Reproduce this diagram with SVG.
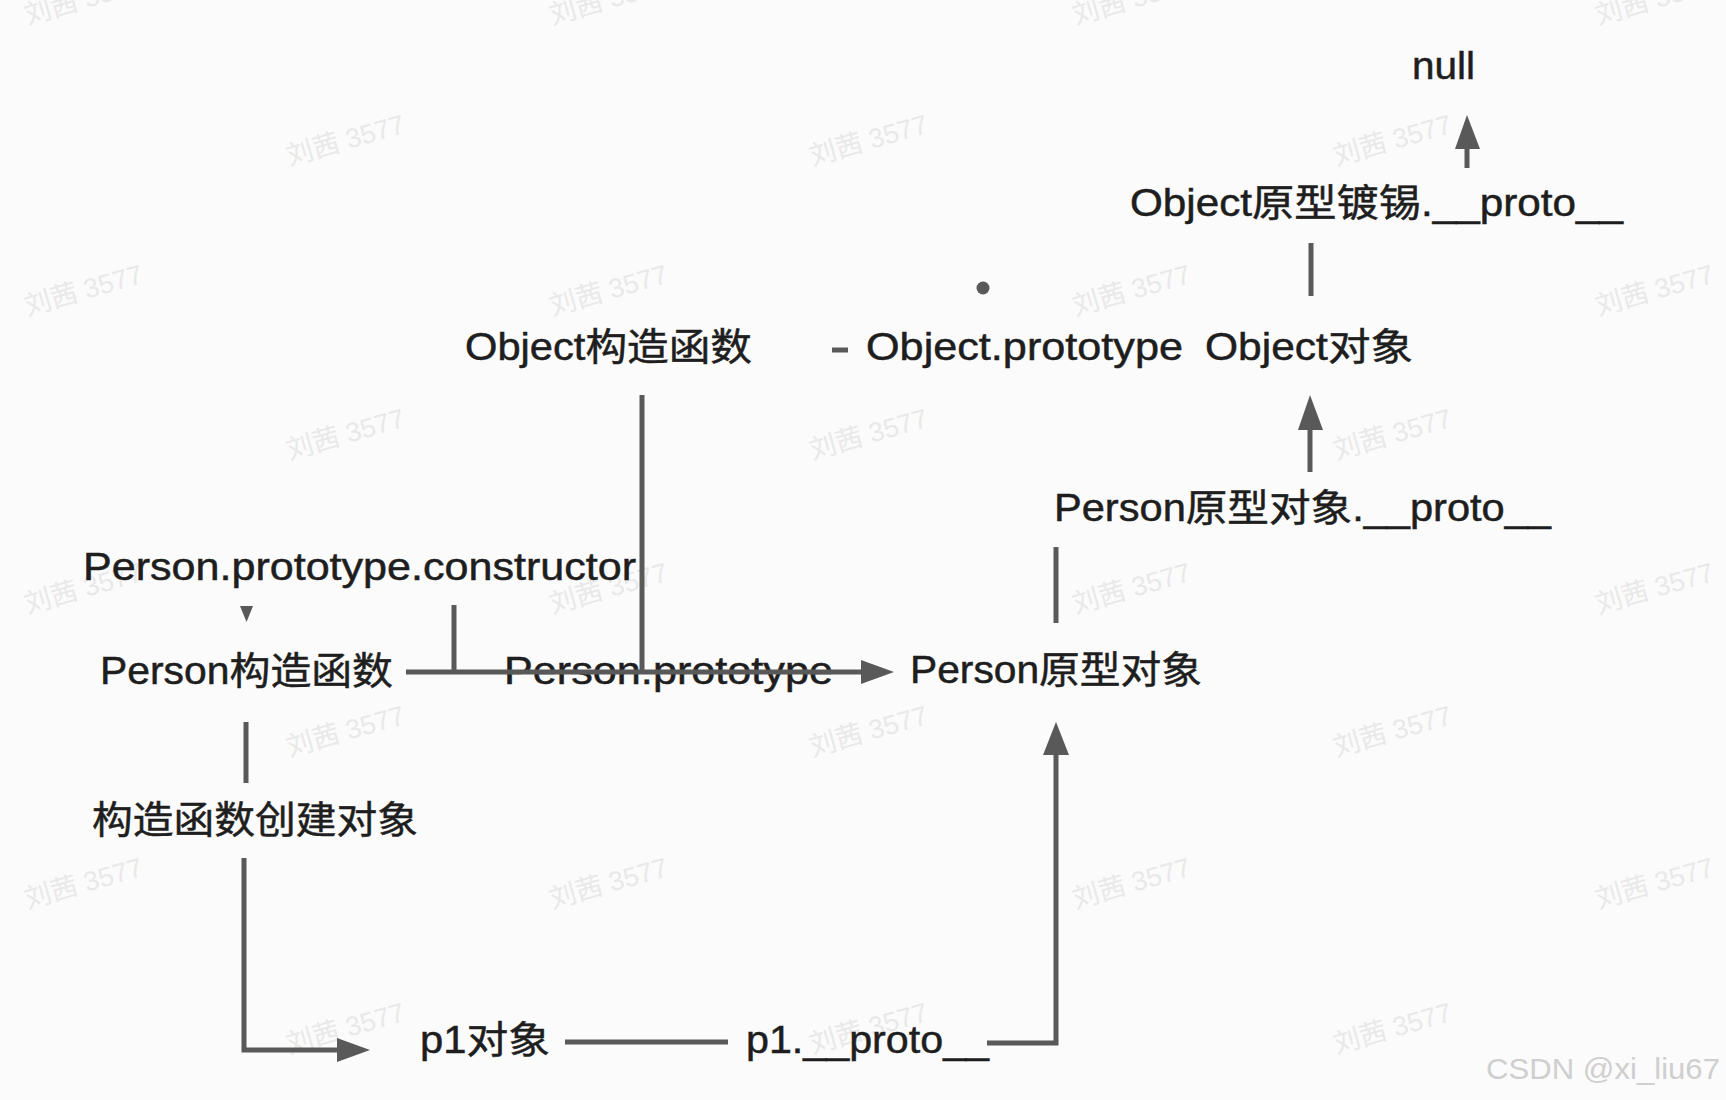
<svg xmlns="http://www.w3.org/2000/svg" width="1726" height="1100" viewBox="0 0 1726 1100">
<style>
.t{font-family:"Liberation Sans","Noto Sans CJK SC",sans-serif;font-size:38px;fill:#1e1e1e;stroke:#1e1e1e;stroke-width:0.5}
.wm{font-family:"Liberation Sans","Noto Sans CJK SC",sans-serif;font-size:27px;fill:#e9e9e9;text-anchor:middle}
.ln{stroke:#595959;stroke-width:5;fill:none}
.ah{fill:#595959}
.csdn{font-family:"Liberation Sans",sans-serif;font-size:30px;fill:#cfcfcf}
</style>
<rect width="1726" height="1100" fill="#fbfbfb"/>
<g id="watermarks">
<text class="wm" transform="translate(86,8) rotate(-16)">刘茜 3577</text>
<text class="wm" transform="translate(611,8) rotate(-16)">刘茜 3577</text>
<text class="wm" transform="translate(1134,8) rotate(-16)">刘茜 3577</text>
<text class="wm" transform="translate(1657,8) rotate(-16)">刘茜 3577</text>
<text class="wm" transform="translate(348,149) rotate(-16)">刘茜 3577</text>
<text class="wm" transform="translate(871,149) rotate(-16)">刘茜 3577</text>
<text class="wm" transform="translate(1395,149) rotate(-16)">刘茜 3577</text>
<text class="wm" transform="translate(86,299) rotate(-16)">刘茜 3577</text>
<text class="wm" transform="translate(611,299) rotate(-16)">刘茜 3577</text>
<text class="wm" transform="translate(1134,299) rotate(-16)">刘茜 3577</text>
<text class="wm" transform="translate(1657,299) rotate(-16)">刘茜 3577</text>
<text class="wm" transform="translate(348,443) rotate(-16)">刘茜 3577</text>
<text class="wm" transform="translate(871,443) rotate(-16)">刘茜 3577</text>
<text class="wm" transform="translate(1395,443) rotate(-16)">刘茜 3577</text>
<text class="wm" transform="translate(86,597) rotate(-16)">刘茜 3577</text>
<text class="wm" transform="translate(611,597) rotate(-16)">刘茜 3577</text>
<text class="wm" transform="translate(1134,597) rotate(-16)">刘茜 3577</text>
<text class="wm" transform="translate(1657,597) rotate(-16)">刘茜 3577</text>
<text class="wm" transform="translate(348,740) rotate(-16)">刘茜 3577</text>
<text class="wm" transform="translate(871,740) rotate(-16)">刘茜 3577</text>
<text class="wm" transform="translate(1395,740) rotate(-16)">刘茜 3577</text>
<text class="wm" transform="translate(86,892) rotate(-16)">刘茜 3577</text>
<text class="wm" transform="translate(611,892) rotate(-16)">刘茜 3577</text>
<text class="wm" transform="translate(1134,892) rotate(-16)">刘茜 3577</text>
<text class="wm" transform="translate(1657,892) rotate(-16)">刘茜 3577</text>
<text class="wm" transform="translate(348,1037) rotate(-16)">刘茜 3577</text>
<text class="wm" transform="translate(871,1037) rotate(-16)">刘茜 3577</text>
<text class="wm" transform="translate(1395,1037) rotate(-16)">刘茜 3577</text>
</g>
<g id="n-null"><text class="t" x="1412" y="79" textLength="63" lengthAdjust="spacingAndGlyphs">null</text></g>
<g id="n-objproto-proto"><text class="t" x="1130" y="216" textLength="493" lengthAdjust="spacingAndGlyphs">Object原型镀锡.__proto__</text></g>
<g id="n-object-ctor"><text class="t" x="465" y="360" textLength="287" lengthAdjust="spacingAndGlyphs">Object构造函数</text></g>
<g id="n-object-prototype"><text class="t" x="866" y="360" textLength="317" lengthAdjust="spacingAndGlyphs">Object.prototype</text></g>
<g id="n-object-obj"><text class="t" x="1205" y="360" textLength="208" lengthAdjust="spacingAndGlyphs">Object对象</text></g>
<g id="n-person-proto-ctor"><text class="t" x="83" y="580" textLength="553" lengthAdjust="spacingAndGlyphs">Person.prototype.constructor</text></g>
<g id="n-person-ctor"><text class="t" x="100" y="684" textLength="293" lengthAdjust="spacingAndGlyphs">Person构造函数</text></g>
<g id="n-person-prototype"><text class="t" x="504" y="684" textLength="329" lengthAdjust="spacingAndGlyphs">Person.prototype</text></g>
<g id="n-person-proto-obj"><text class="t" x="910" y="683" textLength="292" lengthAdjust="spacingAndGlyphs">Person原型对象</text></g>
<g id="n-person-proto-obj-proto"><text class="t" x="1054" y="521" textLength="497" lengthAdjust="spacingAndGlyphs">Person原型对象.__proto__</text></g>
<g id="n-create"><text class="t" x="92" y="833" textLength="326" lengthAdjust="spacingAndGlyphs">构造函数创建对象</text></g>
<g id="n-p1"><text class="t" x="420" y="1053" textLength="130" lengthAdjust="spacingAndGlyphs">p1对象</text></g>
<g id="n-p1-proto"><text class="t" x="746" y="1053" textLength="243" lengthAdjust="spacingAndGlyphs">p1.__proto__</text></g>
<g id="connectors">
<line class="ln" x1="1467" y1="168" x2="1467" y2="145"/>
<polygon class="ah" points="1455,149 1480,149 1467,115"/>
<line class="ln" x1="1311" y1="243" x2="1311" y2="296"/>
<circle cx="983" cy="288" r="6.5" fill="#595959"/>
<line class="ln" x1="832" y1="350" x2="848" y2="350"/>
<line class="ln" x1="1310" y1="472" x2="1310" y2="425"/>
<polygon class="ah" points="1298,430 1323,430 1310,395"/>
<line class="ln" x1="1056" y1="547" x2="1056" y2="623"/>
<line class="ln" x1="642" y1="395" x2="642" y2="672"/>
<line class="ln" x1="454" y1="605" x2="454" y2="672"/>
<polygon class="ah" points="240,606 253,606 246.5,622"/>
<line class="ln" x1="406" y1="672" x2="866" y2="672"/>
<polygon class="ah" points="861,660 861,684 894,672"/>
<line class="ln" x1="246" y1="722" x2="246" y2="783"/>
<polyline class="ln" points="244,858 244,1050 340,1050"/>
<polygon class="ah" points="337,1038 337,1062 370,1050"/>
<line class="ln" x1="565" y1="1042" x2="728" y2="1042"/>
<polyline class="ln" points="987,1043 1056,1043 1056,750"/>
<polygon class="ah" points="1043,755 1069,755 1056,722"/>
</g>
<text class="csdn" x="1486" y="1079" textLength="234" lengthAdjust="spacingAndGlyphs">CSDN @xi_liu67</text>
</svg>
